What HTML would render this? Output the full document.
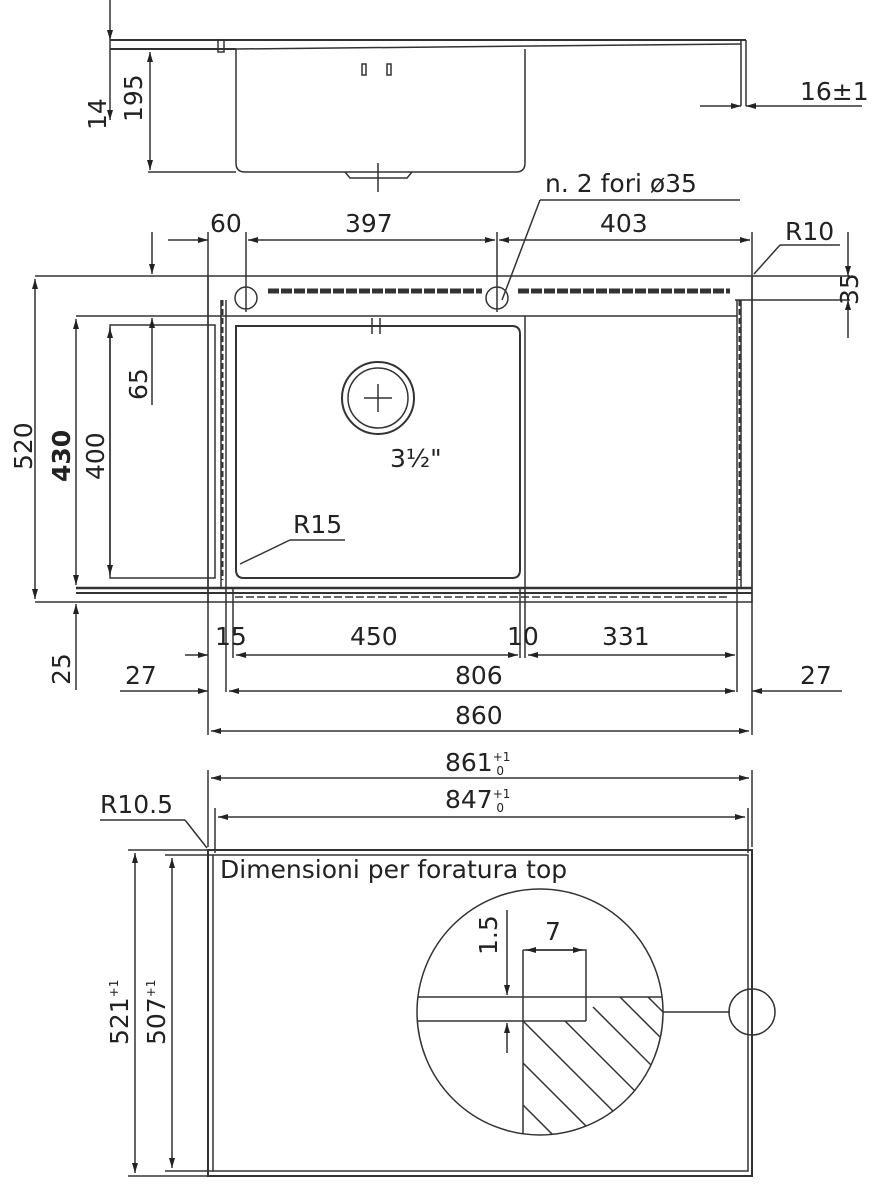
<!DOCTYPE html>
<html><head><style>
html,body{margin:0;padding:0;background:#fff;width:874px;height:1194px;overflow:hidden}
svg{display:block}
text{font-family:"DejaVu Sans","Liberation Sans",sans-serif;fill:#222;font-size:25px}
</style></head><body>
<svg width="874" height="1194" viewBox="0 0 874 1194" xmlns="http://www.w3.org/2000/svg">
<defs>
<marker id="a" viewBox="0 0 10 6" refX="10" refY="3" markerWidth="10" markerHeight="6" orient="auto-start-reverse" markerUnits="userSpaceOnUse"><path d="M0,0L10,3L0,6z" fill="#222"/></marker>
<clipPath id="cc"><circle cx="540" cy="1012" r="123"/></clipPath>
</defs>
<g stroke="#333" fill="none" stroke-width="1.5">
<line x1="110" y1="0" x2="110" y2="40" marker-end="url(#a)"/>
<line x1="110" y1="40" x2="746" y2="40" stroke-width="2"/>
<line x1="110" y1="49" x2="236" y2="49" stroke-width="2"/>
<line x1="236" y1="49" x2="741" y2="44"/>
<line x1="110" y1="40" x2="110" y2="120" marker-end="url(#a)"/>
<rect x="218" y="40" width="6" height="12"/>
<path d="M236,49V163q0,9 9,9H516q9,0 9,-9V49"/>
<path d="M345,172l5,6h57l5,-6"/>
<line x1="378" y1="163" x2="378" y2="192"/>
<line x1="150" y1="52" x2="150" y2="170" marker-start="url(#a)" marker-end="url(#a)"/>
<line x1="148" y1="172" x2="236" y2="172"/>
<line x1="741" y1="40" x2="741" y2="106"/><line x1="746" y1="40" x2="746" y2="106"/>
<line x1="700" y1="106" x2="741" y2="106" marker-end="url(#a)"/>
<line x1="862" y1="106" x2="746" y2="106" marker-end="url(#a)"/>
<rect x="362" y="64" width="4" height="11"/><rect x="387" y="64" width="4" height="11"/>
<rect x="208" y="276" width="544" height="326"/>
<line x1="35" y1="276" x2="208" y2="276"/>
<line x1="752" y1="276" x2="850" y2="276"/>
<line x1="35" y1="602" x2="208" y2="602"/>
<line x1="76" y1="316" x2="737" y2="316"/>
<line x1="76" y1="588" x2="752" y2="588" stroke-width="2.5"/>
<line x1="76" y1="593" x2="752" y2="593" stroke-width="2"/>
<path d="M110,325H215V578H110z"/>
<path d="M236,326H512q8,0 8,8V570q0,8 -8,8H244q-8,0 -8,-8z" stroke-width="2"/>
<line x1="525" y1="316" x2="525" y2="588"/>
<line x1="737" y1="300" x2="737" y2="692"/>
<line x1="741" y1="300" x2="741" y2="588"/>
<line x1="208" y1="232" x2="208" y2="735"/>
<line x1="752" y1="232" x2="752" y2="735"/>
<line x1="226" y1="300" x2="226" y2="692"/>
<line x1="221" y1="300" x2="221" y2="588"/>
<line x1="233" y1="588" x2="233" y2="658"/>
<line x1="520" y1="588" x2="520" y2="658"/>
<line x1="525" y1="588" x2="525" y2="658"/>
<line x1="246" y1="232" x2="246" y2="312"/>
<line x1="497" y1="232" x2="497" y2="312"/>
<circle cx="246" cy="298" r="11"/><circle cx="497" cy="298" r="11"/>
<line x1="268" y1="291" x2="482" y2="291" stroke-width="5" stroke-dasharray="11,2"/>
<line x1="518" y1="291" x2="730" y2="291" stroke-width="5" stroke-dasharray="11,2"/>
<line x1="235" y1="597" x2="730" y2="597" stroke-width="1.5" stroke-dasharray="8,3"/>
<line x1="222" y1="300" x2="222" y2="580" stroke-dasharray="6,3" stroke-width="3"/>
<line x1="740" y1="300" x2="740" y2="580" stroke-dasharray="6,3" stroke-width="3"/>
<circle cx="378" cy="398" r="36" stroke-width="2"/><circle cx="378" cy="398" r="30"/>
<line x1="364" y1="398" x2="392" y2="398"/><line x1="378" y1="384" x2="378" y2="412"/>
<line x1="372" y1="318" x2="372" y2="334"/><line x1="380" y1="318" x2="380" y2="334"/><line x1="362" y1="326" x2="390" y2="326"/>
<line x1="168" y1="240" x2="208" y2="240" marker-end="url(#a)"/>
<line x1="248" y1="240" x2="495" y2="240" marker-start="url(#a)" marker-end="url(#a)"/>
<line x1="499" y1="240" x2="750" y2="240" marker-start="url(#a)" marker-end="url(#a)"/>
<line x1="502" y1="300" x2="540" y2="200"/><line x1="540" y1="200" x2="740" y2="200"/>
<line x1="754" y1="274" x2="780" y2="245"/><line x1="780" y1="245" x2="840" y2="245"/>
<line x1="848" y1="232" x2="848" y2="276" marker-end="url(#a)"/>
<line x1="848" y1="338" x2="848" y2="300" marker-end="url(#a)"/>
<line x1="735" y1="300" x2="850" y2="300"/>
<line x1="35" y1="279" x2="35" y2="599" marker-start="url(#a)" marker-end="url(#a)"/>
<line x1="76" y1="319" x2="76" y2="585" marker-start="url(#a)" marker-end="url(#a)"/>
<line x1="110" y1="328" x2="110" y2="575" marker-start="url(#a)" marker-end="url(#a)"/>
<line x1="152" y1="232" x2="152" y2="274" marker-end="url(#a)"/>
<line x1="152" y1="405" x2="152" y2="318" marker-end="url(#a)"/>
<line x1="76" y1="690" x2="76" y2="604" marker-end="url(#a)"/>
<line x1="240" y1="564" x2="290" y2="540"/><line x1="290" y1="540" x2="345" y2="540"/>
<line x1="185" y1="655" x2="208" y2="655" marker-end="url(#a)"/>
<line x1="236" y1="655" x2="518" y2="655" marker-start="url(#a)" marker-end="url(#a)"/>
<line x1="528" y1="655" x2="735" y2="655" marker-start="url(#a)" marker-end="url(#a)"/>
<line x1="120" y1="691" x2="208" y2="691" marker-end="url(#a)"/>
<line x1="229" y1="691" x2="735" y2="691" marker-start="url(#a)" marker-end="url(#a)"/>
<line x1="842" y1="691" x2="752" y2="691" marker-end="url(#a)"/>
<line x1="211" y1="731" x2="749" y2="731" marker-start="url(#a)" marker-end="url(#a)"/>
<line x1="208" y1="770" x2="208" y2="847"/><line x1="752" y1="770" x2="752" y2="847"/>
<line x1="211" y1="778" x2="749" y2="778" marker-start="url(#a)" marker-end="url(#a)"/>
<line x1="215" y1="808" x2="215" y2="853"/><line x1="748" y1="808" x2="748" y2="853"/>
<line x1="218" y1="817" x2="745" y2="817" marker-start="url(#a)" marker-end="url(#a)"/>
<path d="M208,850H752V1176H208z" stroke-width="2"/>
<path d="M213,855H748V1171H213z"/>
<line x1="100" y1="820" x2="185" y2="820"/><line x1="185" y1="820" x2="207" y2="848"/>
<line x1="128" y1="850" x2="208" y2="850"/><line x1="128" y1="1176" x2="208" y2="1176"/>
<line x1="165" y1="855" x2="213" y2="855"/><line x1="165" y1="1171" x2="213" y2="1171"/>
<line x1="135" y1="853" x2="135" y2="1173" marker-start="url(#a)" marker-end="url(#a)"/>
<line x1="172" y1="858" x2="172" y2="1168" marker-start="url(#a)" marker-end="url(#a)"/>
<circle cx="540" cy="1012" r="123"/>
<g clip-path="url(#cc)">
<line x1="410" y1="997" x2="670" y2="997"/>
<line x1="410" y1="1021" x2="586" y2="1021"/>
<path d="M523,950H586V1021"/>
<line x1="523" y1="950" x2="523" y2="1140"/>
<path d="M523,1021l150,150M523,1063l150,150M523,1105l150,150M565,1021l150,150M593,1007l150,150M620,997l150,150M648,997l150,150" />
</g>
<line x1="507" y1="910" x2="507" y2="995" marker-end="url(#a)"/>
<line x1="507" y1="1053" x2="507" y2="1023" marker-end="url(#a)"/>
<line x1="526" y1="950" x2="583" y2="950" marker-start="url(#a)" marker-end="url(#a)"/>
<line x1="663" y1="1012" x2="730" y2="1012"/>
<circle cx="752" cy="1012" r="23"/>
</g>
<g>
<text x="800" y="100" font-size="22">16±1</text>
<text transform="translate(106,130) rotate(-90)">14</text>
<text transform="translate(142,122) rotate(-90)">195</text>
<text x="545" y="192" font-size="22">n. 2 fori ø35</text>
<text x="210" y="232">60</text>
<text x="345" y="232">397</text>
<text x="600" y="232">403</text>
<text x="785" y="240">R10</text>
<text transform="translate(858,305) rotate(-90)">35</text>
<text transform="translate(32,470) rotate(-90)">520</text>
<text transform="translate(70,482) rotate(-90)" font-weight="bold">430</text>
<text transform="translate(104,480) rotate(-90)">400</text>
<text transform="translate(147,400) rotate(-90)">65</text>
<text transform="translate(70,685) rotate(-90)">25</text>
<text x="390" y="467" font-size="22">3½"</text>
<text x="293" y="533">R15</text>
<text x="215" y="645">15</text>
<text x="350" y="645">450</text>
<text x="507" y="645">10</text>
<text x="602" y="645">331</text>
<text x="125" y="684">27</text>
<text x="455" y="684">806</text>
<text x="800" y="684">27</text>
<text x="455" y="724">860</text>
<text x="445" y="771">861<tspan font-size="12" dy="-10">+1</tspan><tspan font-size="12" dx="-14" dy="14">0</tspan></text>
<text x="445" y="808">847<tspan font-size="12" dy="-10">+1</tspan><tspan font-size="12" dx="-14" dy="14">0</tspan></text>
<text x="100" y="813" font-size="22">R10.5</text>
<text x="220" y="878" font-size="21">Dimensioni per foratura top</text>
<text transform="translate(128,1045) rotate(-90)">521<tspan font-size="12" dy="-10">+1</tspan></text>
<text transform="translate(165,1045) rotate(-90)">507<tspan font-size="12" dy="-10">+1</tspan></text>
<text transform="translate(497,955) rotate(-90)">1.5</text>
<text x="545" y="940">7</text>
</g>
</svg>
</body></html>
